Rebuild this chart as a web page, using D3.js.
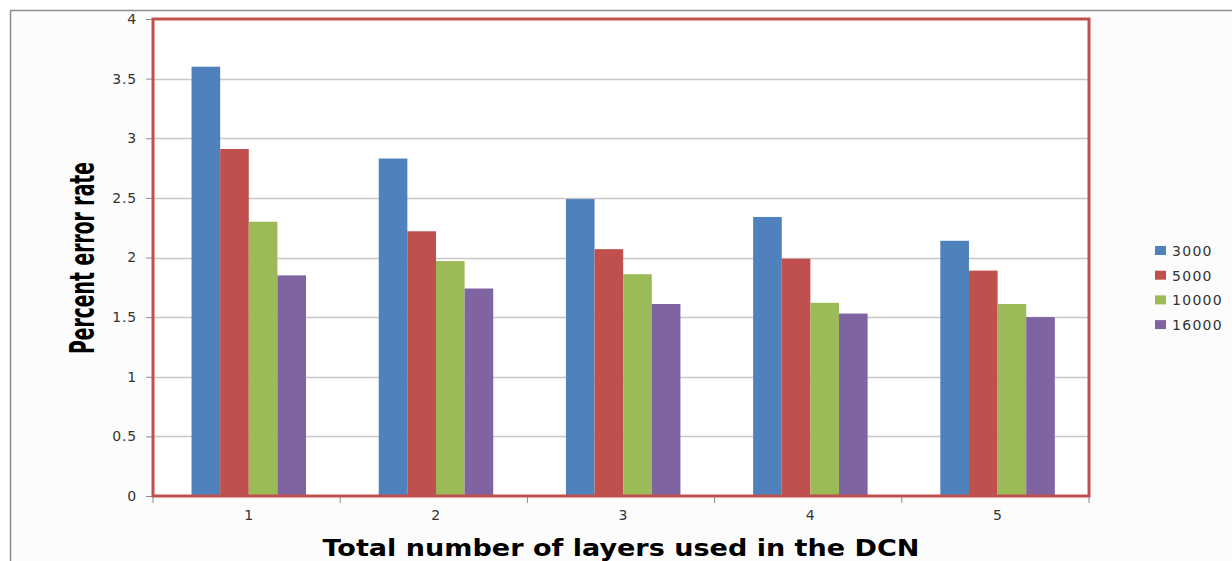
<!DOCTYPE html>
<html>
<head>
<meta charset="utf-8">
<script src="https://cdn.jsdelivr.net/npm/d3@7"></script>
<style>
  html, body { margin: 0; padding: 0; background: #ffffff; }
  svg { display: block; }
</style>
</head>
<body>
<svg id="chart" width="1232" height="561"></svg>
<script>
// Layers used in the DCN
const categories = ["1", "2", "3", "4", "5"];
// Training-set sizes (legend entries)
const seriesNames = ["3000", "5000", "10000", "16000"];
// Percent error rate per series, one value per layer count
const series3000  = [3.60, 2.83, 2.49, 2.34, 2.14];
const series5000  = [2.91, 2.22, 2.07, 1.99, 1.89];
const series10000 = [2.30, 1.97, 1.86, 1.62, 1.61];
const series16000 = [1.85, 1.74, 1.61, 1.53, 1.50];
const yTicks = [0, 0.5, 1, 1.5, 2, 2.5, 3, 3.5, 4];

const seriesValues = [series3000, series5000, series10000, series16000];
const colors = ["#4f81bd", "#c0504d", "#9bbb59", "#8064a2"];

const svg = d3.select("#chart");
const W = 1232, H = 561;
const plot = { left: 153, right: 1089, top: 19, bottom: 496 };
const labelFont = "DejaVu Sans, Verdana, sans-serif";

// Outer chart area
svg.append("rect").attr("x", 10).attr("y", 10).attr("width", W - 10).attr("height", H - 10)
  .attr("fill", "#fcfcfc");
svg.append("line").attr("x1", 10).attr("x2", W).attr("y1", 10.5).attr("y2", 10.5)
  .attr("stroke", "#8c8c8c").attr("stroke-width", 1.5);
svg.append("line").attr("x1", 10.5).attr("x2", 10.5).attr("y1", 10).attr("y2", H)
  .attr("stroke", "#8c8c8c").attr("stroke-width", 1.5);

// Plot background
svg.append("rect").attr("x", plot.left).attr("y", plot.top)
  .attr("width", plot.right - plot.left).attr("height", plot.bottom - plot.top)
  .attr("fill", "#ffffff");

const y = d3.scaleLinear().domain([0, 4]).range([plot.bottom, plot.top]);
const x0 = d3.scaleBand().domain(categories).range([plot.left, plot.right]).paddingInner(0).paddingOuter(0);
const x1 = d3.scaleBand().domain(seriesNames).range([0, x0.bandwidth()])
  .paddingInner(0).paddingOuter(1.27).align(0.53);

// Gridlines
svg.append("g").selectAll("line").data(yTicks.filter(t => t > 0 && t < 4)).join("line")
  .attr("x1", plot.left).attr("x2", plot.right)
  .attr("y1", d => Math.round(y(d)) + 0.5).attr("y2", d => Math.round(y(d)) + 0.5)
  .attr("stroke", "#c8c8c8").attr("stroke-width", 1.5);

// Y axis
const yAxis = svg.append("g").attr("transform", `translate(${plot.left},0)`)
  .call(d3.axisLeft(y).tickValues(yTicks).tickSize(7).tickPadding(9).tickFormat(d3.format("")));
yAxis.select(".domain").remove();
yAxis.selectAll(".tick line").attr("stroke", "#8c8c8c");
yAxis.selectAll(".tick text").attr("fill", "#333").attr("font-family", labelFont)
  .attr("font-size", 14).attr("letter-spacing", 0.8);

// Bars
const groups = svg.append("g").selectAll("g").data(categories).join("g")
  .attr("transform", d => `translate(${x0(d)},0)`);
groups.selectAll("rect")
  .data((c, i) => seriesNames.map((s, j) => ({ s, j, v: seriesValues[j][i] })))
  .join("rect")
  .attr("x", d => x1(d.s)).attr("width", x1.bandwidth())
  .attr("y", d => y(d.v)).attr("height", d => y(0) - y(d.v))
  .attr("fill", d => colors[d.j]);

// X axis ticks at category boundaries
const xAxis = svg.append("g").attr("transform", `translate(0,${plot.bottom})`);
const bounds = categories.map(c => x0(c)).concat([plot.right]);
xAxis.selectAll("line").data(bounds).join("line")
  .attr("x1", d => d).attr("x2", d => d).attr("y1", 0).attr("y2", 7)
  .attr("stroke", "#8c8c8c");
xAxis.selectAll("text").data(categories).join("text")
  .attr("x", d => x0(d) + x0.bandwidth() / 2 + 2).attr("y", 24)
  .attr("text-anchor", "middle").attr("fill", "#333")
  .attr("font-family", labelFont).attr("font-size", 14)
  .text(d => d);

// Plot frame
svg.append("rect").attr("x", plot.left).attr("y", plot.top)
  .attr("width", plot.right - plot.left).attr("height", plot.bottom - plot.top)
  .attr("fill", "none").attr("stroke", "#c0504d").attr("stroke-width", 3);

// Legend
const legend = svg.append("g").attr("transform", "translate(1155,251)");
const items = legend.selectAll("g").data(seriesNames).join("g")
  .attr("transform", (d, i) => `translate(0,${i * 24.7})`);
items.append("rect").attr("x", 0).attr("y", -5).attr("width", 11).attr("height", 9)
  .attr("fill", (d, i) => colors[i]);
items.append("text").attr("x", 17).attr("y", 5).attr("fill", "#333")
  .attr("font-family", labelFont).attr("font-size", 14).attr("letter-spacing", 1.3)
  .text(d => d);

// Axis titles
svg.append("text")
  .attr("transform", "translate(94,258) rotate(-90)")
  .attr("text-anchor", "middle")
  .attr("font-family", "Liberation Sans Narrow, DejaVu Sans Condensed, Arial Narrow, sans-serif")
  .attr("font-weight", "bold")
  .attr("font-size", 33).attr("fill", "#000")
  .attr("textLength", 192).attr("lengthAdjust", "spacingAndGlyphs")
  .text("Percent  error  rate");

svg.append("text")
  .attr("x", 621).attr("y", 556)
  .attr("text-anchor", "middle")
  .attr("font-family", labelFont).attr("font-weight", "bold")
  .attr("font-size", 23).attr("fill", "#000")
  .attr("textLength", 597).attr("lengthAdjust", "spacingAndGlyphs")
  .text("Total number of layers used in the DCN");
</script>
</body>
</html>
